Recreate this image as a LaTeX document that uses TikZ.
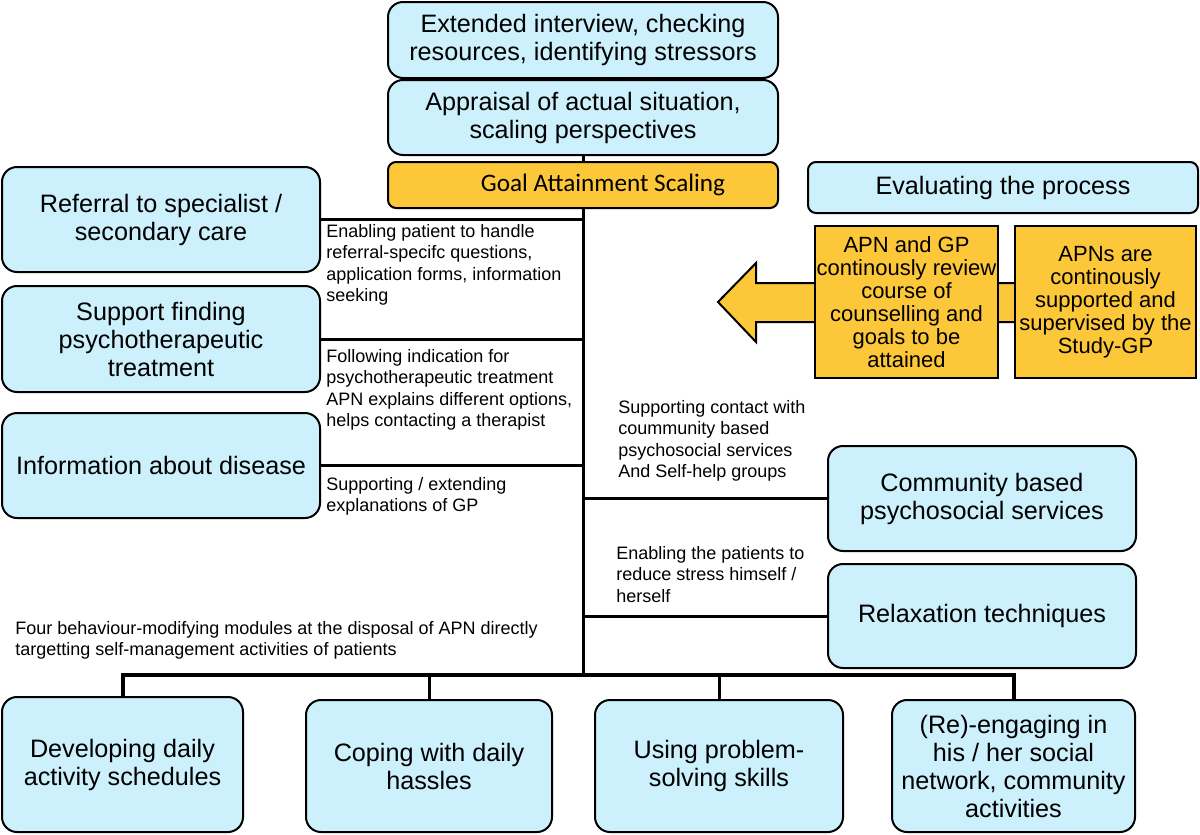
\documentclass[tikz,border=0pt]{standalone}
\usepackage{fontspec}
\setmainfont{Liberation Sans}
\newfontfamily\calibrifont{Carlito}
\usepackage{tikz}
\usetikzlibrary{positioning, calc}
\definecolor{boxblue}{RGB}{204,240,252}
\definecolor{gasorange}{RGB}{253,199,58}

\begin{document}
\begin{tikzpicture}[x=0.5pt, y=-0.5pt,
  bluebox/.style={draw=black, line width=1pt, fill=boxblue, rounded corners=7.5pt,
    align=center, inner sep=2pt, font=\fontsize{12.6}{14}\selectfont},
  orangebox/.style={draw=black, line width=1pt, fill=gasorange, align=center,
    inner sep=1pt, font=\fontsize{11}{11.5}\selectfont},
  note/.style={anchor=north west, align=left, inner sep=0pt,
    font=\fontsize{9}{10.75}\selectfont},
  link/.style={line width=1.5pt}]
  \useasboundingbox (0,0) rectangle (1200,835);

  % assessment steps
  \node[bluebox, minimum width=195pt, minimum height=38pt] (extended) at (583,40)
    {Extended interview, checking\\resources, identifying stressors};
  \node[bluebox, minimum width=195pt, minimum height=37.5pt] (appraisal) at (583,117.5)
    {Appraisal of actual situation,\\scaling perspectives};
  \node[bluebox, fill=gasorange, rounded corners=4pt, minimum width=195pt, minimum height=23pt,
    font=\calibrifont\fontsize{12.6}{14}\selectfont] (gas) at (583,185)
    {\hspace*{20pt}Goal Attainment Scaling};

  % evaluation
  \node[bluebox, rounded corners=4pt, minimum width=195pt, minimum height=25.5pt] (evaluating) at (1003,187.5)
    {Evaluating the process};
  \filldraw[fill=gasorange, line width=1pt] (1015,283) -- (756,283) -- (756,263) -- (718,302)
    -- (756,342) -- (756,322) -- (1015,322) -- cycle;
  \node[orangebox, minimum width=90.5pt, minimum height=76pt] (review) at (906.5,302)
    {APN and GP\\continously review\\course of\\counselling and\\goals to be\\attained};
  \node[orangebox, minimum width=90.5pt, minimum height=76pt] (supervision) at (1105.5,302)
    {APNs are\\continously\\supported and\\supervised by the\\Study-GP};

  % modules on the left
  \node[bluebox, minimum width=159pt, minimum height=52.5pt] (referral) at (161,219.5)
    {Referral to specialist /\\secondary care};
  \node[bluebox, minimum width=159pt, minimum height=53pt] (support) at (161,339)
    {Support finding\\psychotherapeutic\\treatment};
  \node[bluebox, minimum width=159pt, minimum height=52.5pt] (disease) at (161,465.5)
    {Information about disease};

  % modules on the right
  \node[bluebox, minimum width=154pt, minimum height=52.5pt] (community) at (982,498.5)
    {Community based\\psychosocial services};
  \node[bluebox, minimum width=154pt, minimum height=52pt] (relaxation) at (982,616)
    {Relaxation techniques};

  % behaviour-modifying modules
  \node[bluebox, minimum width=120.5pt, minimum height=67.5pt] (schedules) at (122.5,764.5)
    {Developing daily\\activity schedules};
  \node[bluebox, minimum width=123pt, minimum height=66pt] (hassles) at (429,766)
    {Coping with daily\\hassles};
  \node[bluebox, minimum width=124pt, minimum height=66pt] (problems) at (719,766)
    {Using problem-\\solving skills};
  \node[bluebox, minimum width=121.5pt, minimum height=66pt] (network) at (1013.5,766)
    {(Re)-engaging in\\his / her social\\network, community\\activities};

  % connectors
  \coordinate (hub) at (583,675);
  \draw[link] (appraisal) -- (gas);
  \draw[link] (gas.south) -- (hub);
  \draw[link] (referral.east) -- (referral.east -| hub);
  \draw[link] (support.east) -- (support.east -| hub);
  \draw[link] (disease.east) -- (disease.east -| hub);
  \draw[link] (community.west) -- (community.west -| hub);
  \draw[link] (relaxation.west) -- (relaxation.west -| hub);
  \draw[line width=2pt] (schedules.north) |- (hub) -| (network.north);
  \draw[link] (hassles.north) -- (hassles.north |- hub);
  \draw[link] (problems.north) -- (problems.north |- hub);

  % connector texts
  \node[note] (referralnote) at (326,224)
    {Enabling patient to handle\\referral-specifc questions,\\application forms, information\\seeking};
  \node[note] (supportnote) at (326,349)
    {Following indication for\\psychotherapeutic treatment\\APN explains different options,\\helps contacting a therapist};
  \node[note] (diseasenote) at (326,477)
    {Supporting / extending\\explanations of GP};
  \node[note] (communitynote) at (618,400)
    {Supporting contact with\\coummunity based\\psychosocial services\\And Self-help groups};
  \node[note] (relaxationnote) at (616,546)
    {Enabling the patients to\\reduce stress himself /\\herself};
  \node[note] (modulesnote) at (15,621)
    {Four behaviour-modifying modules at the disposal of APN directly\\targetting self-management activities of patients};
\end{tikzpicture}
\end{document}
